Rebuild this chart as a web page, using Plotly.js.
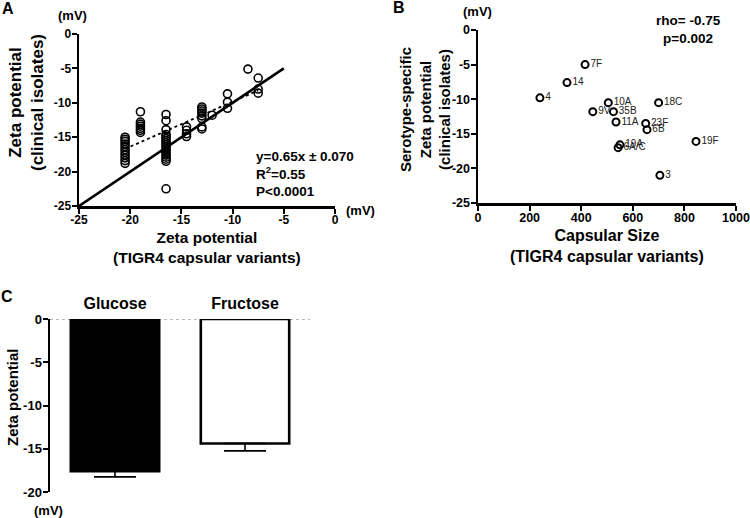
<!DOCTYPE html>
<html>
<head>
<meta charset="utf-8">
<script src="https://cdn.plot.ly/plotly-3.0.1.min.js"></script>
<style>html,body{margin:0;padding:0;background:#fff}#chart{width:750px;height:518px}</style>
</head>
<body>
<div id="chart"></div>
<script>
// ---------- Panel A data ----------
var aTigr4 = [
  -20.5,-20.5,-20.5,-20.5,-20.5,-20.5,-20.5,-20.5,-20.5,-20.5,-20.5,
  -19,-19,-19,-19,-19,-19,-19,
  -16.5,-16.5,-16.5,-16.5,-16.5,-16.5,-16.5,-16.5,-16.5,-16.5,-16.5,-16.5,-16.5,-16.5,-16.5,-16.5,-16.5,-16.5,
  -14.5,-14.5,-14.5,-14.5,
  -13,-13,-13,-13,-13,-13,-13,-13,
  -12,
  -10.5,-10.5,-10.5,
  -8.5,
  -7.5,-7.5,-7.5
];
var aClinical = [
  -15.0,-15.3,-15.6,-16.0,-16.4,-16.8,-17.2,-17.6,-18.0,-18.4,-18.8,
  -11.3,-12.8,-13.1,-13.4,-13.7,-14.0,-14.3,
  -11.7,-12.6,-13.9,-14.6,-14.9,-15.2,-15.5,-15.8,-16.1,-16.4,-16.7,-17.0,-17.3,-17.6,-17.9,-18.2,-18.5,-22.5,
  -13.5,-14.0,-14.5,-14.9,
  -10.6,-10.9,-11.2,-11.5,-11.9,-12.3,-13.5,-13.8,
  -11.8,
  -8.7,-9.9,-10.8,
  -5.1,
  -6.4,-8.0,-8.6
];
var aIdentityX = [-25, -5];
var aIdentityY = [-25, -5];
var aFitX = [-20.5, -7.5];
var aFitY = [-16.7, -8.2];
var aTickVals = [-25, -20, -15, -10, -5, 0];
var aTickText = ['-25', '-20', '-15', '-10', '-5', '0'];

// ---------- Panel B data ----------
var bSerotype = ['7F','14','4','10A','18C','9V','35B','11A','23F','6B','19F','19A','6A/C','3'];
var bCapsSize = [415, 345, 240, 505, 700, 445, 525, 535, 650, 655, 845, 550, 543, 705];
var bZeta     = [-5.0, -7.6, -9.8, -10.5, -10.5, -11.8, -11.8, -13.3, -13.5, -14.4, -16.1, -16.6, -17.0, -21.0];
var bXTickVals = [0, 200, 400, 600, 800, 1000];
var bXTickText = ['0', '200', '400', '600', '800', '1000'];

// ---------- Panel C data ----------
var cSugar = ['Glucose', 'Fructose'];
var cMean  = [-17.6, -14.4];
var cSem   = [0.65, 0.85];
var cTickVals = [-20, -15, -10, -5, 0];
var cTickText = ['-20', '-15', '-10', '-5', '0'];

var FONT = 'Arial, "Liberation Sans", Helvetica, sans-serif';
function bold(size){ return {family: FONT, size: size, color: '#000', weight: 'bold'}; }
function px(x){ return x / 750; }
function py(y){ return 1 - y / 518; }

var axisBase = {
  showline: true, linecolor: '#000', linewidth: 2.5,
  ticks: 'outside', ticklen: 5, tickwidth: 2, tickcolor: '#000',
  showgrid: false, zeroline: false, mirror: false, fixedrange: true
};
function ax(extra){ return Object.assign({}, axisBase, extra); }

var traces = [
  // A
  {x: aTigr4, y: aClinical, xaxis: 'x', yaxis: 'y', type: 'scatter', mode: 'markers',
   marker: {symbol: 'circle-open', size: 8, color: '#000', line: {width: 1.6, color: '#000'}}},
  {x: aIdentityX, y: aIdentityY, xaxis: 'x', yaxis: 'y', type: 'scatter', mode: 'lines',
   line: {color: '#000', width: 2.6}},
  {x: aFitX, y: aFitY, xaxis: 'x', yaxis: 'y', type: 'scatter', mode: 'lines',
   line: {color: '#000', width: 1.8, dash: 'dot'}},
  // B
  {x: bCapsSize, y: bZeta, text: bSerotype, xaxis: 'x2', yaxis: 'y2', type: 'scatter',
   mode: 'markers+text', textposition: 'middle right',
   textfont: {family: FONT, size: 10, color: '#222'},
   marker: {symbol: 'circle-open', size: 7, color: '#000', line: {width: 2, color: '#000'}}},
  // C
  {x: cSugar, y: cMean, xaxis: 'x3', yaxis: 'y3', type: 'bar', width: 0.68,
   marker: {color: ['#000', '#fff'], line: {color: '#000', width: 2.6}},
   error_y: {type: 'data', symmetric: false, array: [0, 0], arrayminus: cSem,
             color: '#000', thickness: 1.6, width: 21}}
];

var layout = {
  width: 750, height: 518,
  margin: {l: 0, r: 0, t: 0, b: 0},
  paper_bgcolor: '#fff', plot_bgcolor: 'rgba(0,0,0,0)',
  showlegend: false,
  font: {family: FONT, color: '#000'},
  xaxis: ax({domain: [px(79), px(335)], anchor: 'y', range: [-25, 0], ticklabelstandoff: -4,
             tickvals: aTickVals, ticktext: aTickText, tickfont: bold(12)}),
  yaxis: ax({domain: [py(206), py(34)], anchor: 'x', range: [-25, 0], ticklabelstandoff: -2,
             tickvals: aTickVals, ticktext: aTickText, tickfont: bold(12)}),
  xaxis2: ax({domain: [px(478), px(736)], anchor: 'y2', range: [0, 1000], ticklabelstandoff: -4,
              tickvals: bXTickVals, ticktext: bXTickText, tickfont: bold(12.5)}),
  yaxis2: ax({domain: [py(203), py(30)], anchor: 'x2', range: [-25, 0], ticklabelstandoff: -2,
              tickvals: aTickVals, ticktext: aTickText, tickfont: bold(12.5)}),
  xaxis3: {domain: [px(50), px(310)], anchor: 'y3', side: 'top', range: [-0.5, 1.5],
           type: 'category', showline: false, ticks: '', showgrid: false, zeroline: false,
           ticklabelstandoff: 6, tickfont: bold(16), fixedrange: true},
  yaxis3: ax({domain: [py(492), py(319)], anchor: 'x3', range: [-20, 0], ticklabelstandoff: -2,
              tickvals: cTickVals, ticktext: cTickText, tickfont: bold(13)}),
  shapes: [
    {type: 'line', xref: 'x3 domain', yref: 'y3', x0: 0, x1: 1, y0: 0, y1: 0,
     line: {color: '#777', width: 1, dash: 'dot'}, layer: 'below'}
  ],
  annotations: [
    // panel letters
    {text: 'A', x: px(8), y: py(9), xref: 'paper', yref: 'paper', showarrow: false, xanchor: 'center', yanchor: 'middle', font: bold(16)},
    {text: 'B', x: px(399), y: py(8), xref: 'paper', yref: 'paper', showarrow: false, xanchor: 'center', yanchor: 'middle', font: bold(16)},
    {text: 'C', x: px(7), y: py(296), xref: 'paper', yref: 'paper', showarrow: false, xanchor: 'center', yanchor: 'middle', font: bold(16)},
    // A titles
    {text: 'Zeta potential<br>(TIGR4 capsular variants)', x: px(207), y: py(248), xref: 'paper', yref: 'paper', showarrow: false, xanchor: 'center', yanchor: 'middle', font: bold(15.5)},
    {text: 'Zeta potential<br>(clinical isolates)', x: px(27), y: py(103), xref: 'paper', yref: 'paper', showarrow: false, textangle: -90, xanchor: 'center', yanchor: 'middle', font: bold(17)},
    {text: '(mV)', x: px(72), y: py(15), xref: 'paper', yref: 'paper', showarrow: false, xanchor: 'center', yanchor: 'middle', font: bold(13)},
    {text: '(mV)', x: px(360), y: py(210), xref: 'paper', yref: 'paper', showarrow: false, xanchor: 'center', yanchor: 'middle', font: bold(13)},
    {text: 'y=0.65x ± 0.070<br>R<sup>2</sup>=0.55<br>P<0.0001', x: px(254), y: py(174), xref: 'paper', yref: 'paper', showarrow: false, xanchor: 'left', yanchor: 'middle', align: 'left', font: bold(13.5)},
    // B titles
    {text: 'Capsular Size<br>(TIGR4 capsular variants)', x: px(607), y: py(246), xref: 'paper', yref: 'paper', showarrow: false, xanchor: 'center', yanchor: 'middle', font: bold(16)},
    {text: 'Serotype-specific<br>Zeta potential<br>(clinical isolates)', x: px(425), y: py(110), xref: 'paper', yref: 'paper', showarrow: false, textangle: -90, xanchor: 'center', yanchor: 'middle', font: bold(15)},
    {text: '(mV)', x: px(477), y: py(12), xref: 'paper', yref: 'paper', showarrow: false, xanchor: 'center', yanchor: 'middle', font: bold(13)},
    {text: 'rho= -0.75<br>p=0.002', x: px(688), y: py(30), xref: 'paper', yref: 'paper', showarrow: false, xanchor: 'center', yanchor: 'middle', align: 'center', font: bold(13.5)},
    // C titles
    {text: 'Zeta potential', x: px(12), y: py(397), xref: 'paper', yref: 'paper', showarrow: false, textangle: -90, xanchor: 'center', yanchor: 'middle', font: bold(15)},
    {text: '(mV)', x: px(48), y: py(510), xref: 'paper', yref: 'paper', showarrow: false, xanchor: 'center', yanchor: 'middle', font: bold(13)}
  ]
};

Plotly.newPlot('chart', traces, layout, {staticPlot: true, displayModeBar: false});
</script>
</body>
</html>
